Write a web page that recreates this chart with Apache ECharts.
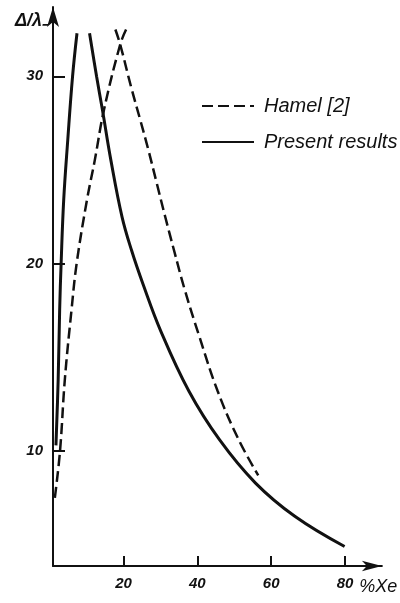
<!DOCTYPE html>
<html>
<head>
<meta charset="utf-8">
<script src="https://cdn.jsdelivr.net/npm/echarts@6/dist/echarts.min.js"></script>
<style>
  html, body { margin: 0; padding: 0; background: #fff; }
  #chart { width: 400px; height: 603px; }
</style>
</head>
<body>
<div id="chart"></div>
<script>
// data: [%Xe, delta/lambda]
var hamelRise = [[1.4, 7.5], [2.8, 10.0], [4.1, 13.8], [5.9, 17.5], [7.3, 20.0], [10.1, 23.4], [12.2, 25.5], [14.7, 28.2], [19.1, 31.7], [20.7, 32.5]];
var hamelFall = [[17.8, 32.5], [19.1, 31.7], [22.1, 29.4], [24.5, 27.7], [26.7, 26.1], [29.0, 24.3], [31.3, 22.5], [33.7, 20.7], [36.6, 18.6], [40.4, 16.2], [45.5, 13.2], [51.2, 10.6], [56.5, 8.7]];
var presentRise = [[1.7, 10.3], [2.3, 13.8], [2.7, 17.5], [3.1, 20.0], [3.8, 23.4], [4.9, 26.6], [6.2, 30.0], [7.4, 32.3]];
var presentFall = [[10.8, 32.3], [12.7, 30.0], [14.3, 28.2], [16.6, 25.5], [19.6, 22.5], [22.2, 20.7], [25.3, 18.9], [30.1, 16.4], [37.7, 13.2], [46.0, 10.6], [55.7, 8.3], [66.5, 6.5], [79.9, 4.9]];
var xTicks = [20, 40, 60, 80];
var yTicks = [10, 20, 30];
var legendNames = ['Hamel [2]', 'Present results'];

var ink = '#111';
var font = "'Liberation Sans', Arial, sans-serif";

function curve(name, data, dashed) {
    return {
        name: name,
        type: 'line',
        data: data,
        smooth: 0.4,
        symbol: 'none',
        lineStyle: {
            color: ink,
            width: dashed ? 2.5 : 3,
            type: dashed ? [11, 5] : 'solid'
        },
        itemStyle: { color: ink },
        silent: true
    };
}

var chart = echarts.init(document.getElementById('chart'));
var option = {
    backgroundColor: '#fff',
    animation: false,
    grid: { left: 53, right: 16, top: 7, bottom: 37 },
    legend: {
        data: legendNames,
        orient: 'vertical',
        left: 196,
        top: 91,
        itemWidth: 52,
        itemHeight: 14,
        itemGap: 16,
        itemStyle: { color: 'rgba(0,0,0,0)', borderWidth: 0, opacity: 0 },
        textStyle: {
            color: ink,
            fontSize: 20,
            fontStyle: 'italic',
            fontFamily: font,
            padding: [0, 0, 0, 5]
        }
    },
    xAxis: {
        type: 'value',
        min: 0.9,
        max: 90,
        name: '%Xe',
        nameLocation: 'end',
        nameGap: -4,
        nameTextStyle: {
            color: ink, fontSize: 18, fontStyle: 'italic', fontFamily: font,
            align: 'center', verticalAlign: 'top', padding: [12, 0, 0, 0]
        },
        axisLine: {
            onZero: false,
            symbol: ['none', 'arrow'],
            symbolSize: [8, 20],
            lineStyle: { color: ink, width: 2 }
        },
        axisTick: { inside: true, length: 10, customValues: xTicks, lineStyle: { color: ink, width: 2 } },
        axisLabel: {
            customValues: xTicks, margin: 10,
            color: ink, fontSize: 15, fontStyle: 'italic', fontWeight: 'bold', fontFamily: font
        },
        splitLine: { show: false }
    },
    yAxis: {
        type: 'value',
        min: 3.86,
        max: 33.7,
        name: 'Δ/λ₋',
        nameLocation: 'end',
        nameGap: -14,
        nameTextStyle: {
            color: ink, fontSize: 18, fontStyle: 'italic', fontWeight: 'bold', fontFamily: font,
            align: 'right', verticalAlign: 'middle', padding: [0, 5, 0, 0]
        },
        axisLine: {
            onZero: false,
            symbol: ['none', 'arrow'],
            symbolSize: [9, 20],
            lineStyle: { color: ink, width: 2 }
        },
        axisTick: { inside: true, length: 12, customValues: yTicks, lineStyle: { color: ink, width: 2 } },
        axisLabel: {
            customValues: yTicks, margin: 10,
            color: ink, fontSize: 15, fontStyle: 'italic', fontWeight: 'bold', fontFamily: font
        },
        splitLine: { show: false }
    },
    series: [
        curve(legendNames[0], hamelRise, true),
        curve(legendNames[0], hamelFall, true),
        curve(legendNames[1], presentRise, false),
        curve(legendNames[1], presentFall, false)
    ]
};
chart.setOption(option);
</script>
</body>
</html>
